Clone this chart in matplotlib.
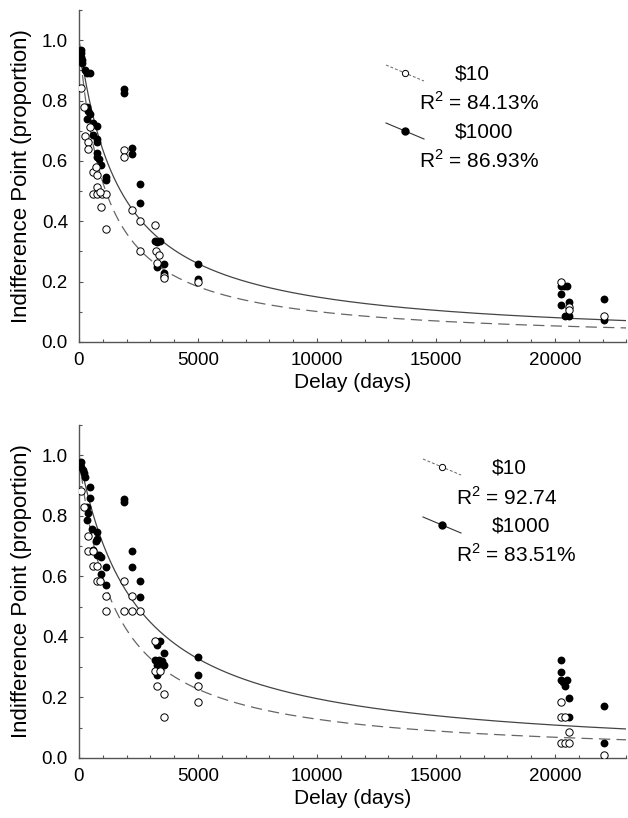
import numpy as np
import matplotlib.pyplot as plt
from matplotlib.lines import Line2D
from matplotlib.ticker import MultipleLocator

plt.rcParams['font.family'] = ['Liberation Sans', 'DejaVu Sans']
plt.rcParams['mathtext.fontset'] = 'custom'
plt.rcParams['mathtext.rm'] = 'Liberation Sans'

# ---- top panel data (delay in days, indifference point) ----
top_open_x = [84, 224, 252, 392, 392, 462, 574, 742, 770, 574, 770, 952, 1134, 882, 924, 1134, 714,
              1904, 1904, 2212, 2562, 2562, 3192, 3234, 3374, 3262, 3570, 3570, 5000,
              20240, 20600, 20600, 22050]
top_open_y = [0.84, 0.777, 0.682, 0.663, 0.638, 0.713, 0.564, 0.553, 0.514, 0.489, 0.489, 0.489, 0.489, 0.498, 0.448, 0.373, 0.58,
              0.636, 0.614, 0.437, 0.40, 0.30, 0.387, 0.30, 0.288, 0.263, 0.219, 0.211, 0.20,
              0.20, 0.117, 0.106, 0.086]
top_fill_x = [84, 98, 84, 112, 126, 252, 350, 462, 350, 392, 462, 350, 574, 742, 574, 742, 742, 742, 770, 854, 924, 1134, 1134,
              1904, 1904, 2212, 2212, 2562, 2562, 3192, 3290, 3402, 3262, 3570, 3570, 5000, 5000,
              20240, 20380, 20490, 20240, 20240, 20600, 20420, 20600, 22050, 22050]
top_fill_y = [0.967, 0.956, 0.945, 0.934, 0.925, 0.90, 0.892, 0.89, 0.777, 0.766, 0.757, 0.74, 0.724, 0.715, 0.685, 0.671, 0.663, 0.625, 0.614, 0.605, 0.586, 0.547, 0.536,
              0.837, 0.826, 0.643, 0.622, 0.525, 0.461, 0.336, 0.33, 0.336, 0.249, 0.26, 0.23, 0.26, 0.21,
              0.185, 0.185, 0.185, 0.159, 0.123, 0.134, 0.086, 0.086, 0.141, 0.073]
top_k10 = 0.00089
top_k1000 = 0.00057
top_r2 = ['84.13%', '86.93%']

# ---- bottom panel data ----
bot_open_x = [84, 224, 364, 392, 574, 574, 742, 742, 882, 1134, 1134, 1904, 1904, 2212, 2212, 2562,
              3192, 3192, 3262, 3402, 3584, 3584, 5000, 5000,
              20240, 20240, 20420, 20600, 20240, 20420, 20600, 22050]
bot_open_y = [0.882, 0.83, 0.732, 0.683, 0.683, 0.634, 0.634, 0.585, 0.585, 0.536, 0.484, 0.585, 0.484, 0.484, 0.536, 0.484,
              0.386, 0.287, 0.237, 0.287, 0.21, 0.137, 0.237, 0.186,
              0.186, 0.137, 0.137, 0.085, 0.051, 0.051, 0.051, 0.011]
bot_fill_x = [70, 98, 150, 220, 250, 462, 462, 350, 392, 350, 532, 742, 742, 714, 742, 854, 924, 924, 1134, 1134, 602,
              1904, 1904, 2212, 2212, 2562, 2562, 3262, 3402, 3192, 3374, 3472, 3262, 3584, 3584, 3262, 5000, 5000,
              20240, 20240, 20240, 20350, 20490, 20420, 20600, 20600, 22050, 22050]
bot_fill_y = [0.978, 0.962, 0.951, 0.943, 0.929, 0.896, 0.858, 0.83, 0.809, 0.787, 0.757, 0.746, 0.725, 0.716, 0.672, 0.67, 0.663, 0.607, 0.632, 0.571, 0.688,
              0.856, 0.845, 0.683, 0.632, 0.585, 0.532, 0.372, 0.386, 0.325, 0.325, 0.32, 0.306, 0.346, 0.308, 0.273, 0.333, 0.273,
              0.325, 0.284, 0.259, 0.251, 0.257, 0.237, 0.199, 0.137, 0.173, 0.051]
bot_k10 = 0.00068
bot_k1000 = 0.00041
bot_r2 = ['92.74', '83.51%']

W, H = 628, 818
fig = plt.figure(figsize=(W / 100, H / 100), dpi=100)

def px(x, y):
    # pixel position -> figure fraction
    return x / W, 1 - y / H

def panel(rect, ox, oy, fx, fy, k10, k1000):
    ax = fig.add_axes(rect)
    d = np.linspace(0, 23000, 600)
    ax.plot(d, 1 / (1 + k1000 * d), color='#444444', lw=0.9, zorder=2)
    ax.plot(d, 1 / (1 + k10 * d), color='#666666', lw=0.9, dashes=(9, 5), zorder=2)
    ax.scatter(fx, fy, s=32, color='black', zorder=3, linewidths=0)
    ax.scatter(ox, oy, s=28, facecolor='white', edgecolor='black', linewidths=0.7, zorder=4)
    ax.set_xlim(0, 23000)
    ax.set_ylim(0, 1.1)
    ax.xaxis.set_major_locator(MultipleLocator(5000))
    ax.xaxis.set_minor_locator(MultipleLocator(1000))
    ax.yaxis.set_major_locator(MultipleLocator(0.2))
    ax.yaxis.set_minor_locator(MultipleLocator(0.1))
    ax.yaxis.set_major_formatter(lambda v, p: '%.1f' % v)
    ax.tick_params(which='both', direction='in', labelsize=13.5, color='#555555', width=0.8)
    ax.tick_params(which='major', length=3)
    ax.tick_params(axis='x', which='major', pad=7)
    ax.tick_params(axis='y', which='major', pad=8)
    ax.tick_params(which='minor', length=2)
    for s in ['top', 'right']:
        ax.spines[s].set_visible(False)
    for s in ['left', 'bottom']:
        ax.spines[s].set_color('#555555')
        ax.spines[s].set_linewidth(1.0)
    ax.set_xlabel('Delay (days)', fontsize=15, labelpad=3)
    ax.set_ylabel('Indifference Point (proportion)', fontsize=16, labelpad=7)
    ax.patch.set_alpha(0)
    return ax

def legend(x0, y0, r2):
    # x0, y0: pixel position of the first legend glyph centre
    x1, y1 = px(x0 - 19, y0 - 8)
    x2, y2 = px(x0 + 19, y0 + 8)
    fig.add_artist(Line2D([x1, x2], [y1, y2], color='#666666', lw=0.7, dashes=(3, 2)))
    cx, cy = px(x0, y0)
    fig.add_artist(Line2D([cx], [cy], marker='o', ms=4.5, mfc='white', mec='black', mew=0.7))
    x1, y1 = px(x0 - 19, y0 + 50)
    x2, y2 = px(x0 + 19, y0 + 66)
    fig.add_artist(Line2D([x1, x2], [y1, y2], color='#333333', lw=0.8))
    cx, cy = px(x0, y0 + 58)
    fig.add_artist(Line2D([cx], [cy], marker='o', ms=5, color='black'))
    tx, ty = px(x0 + 50, y0 + 1)
    fig.text(tx, ty, '$10', fontsize=15, va='center', ha='left')
    tx, ty = px(x0 + 14, y0 + 30)
    fig.text(tx, ty, 'R$^2$ = ' + r2[0], fontsize=15, va='center', ha='left')
    tx, ty = px(x0 + 50, y0 + 59)
    fig.text(tx, ty, '$1000', fontsize=15, va='center', ha='left')
    tx, ty = px(x0 + 14, y0 + 88)
    fig.text(tx, ty, 'R$^2$ = ' + r2[1], fontsize=15, va='center', ha='left')

panel([79 / W, 1 - 342 / H, 547.4 / W, 332 / H], top_open_x, top_open_y, top_fill_x, top_fill_y, top_k10, top_k1000)
panel([79 / W, 1 - 758 / H, 547.4 / W, 333 / H], bot_open_x, bot_open_y, bot_fill_x, bot_fill_y, bot_k10, bot_k1000)
legend(405, 73, top_r2)
legend(442, 467, bot_r2)

fig.savefig('out.png', dpi=100)
